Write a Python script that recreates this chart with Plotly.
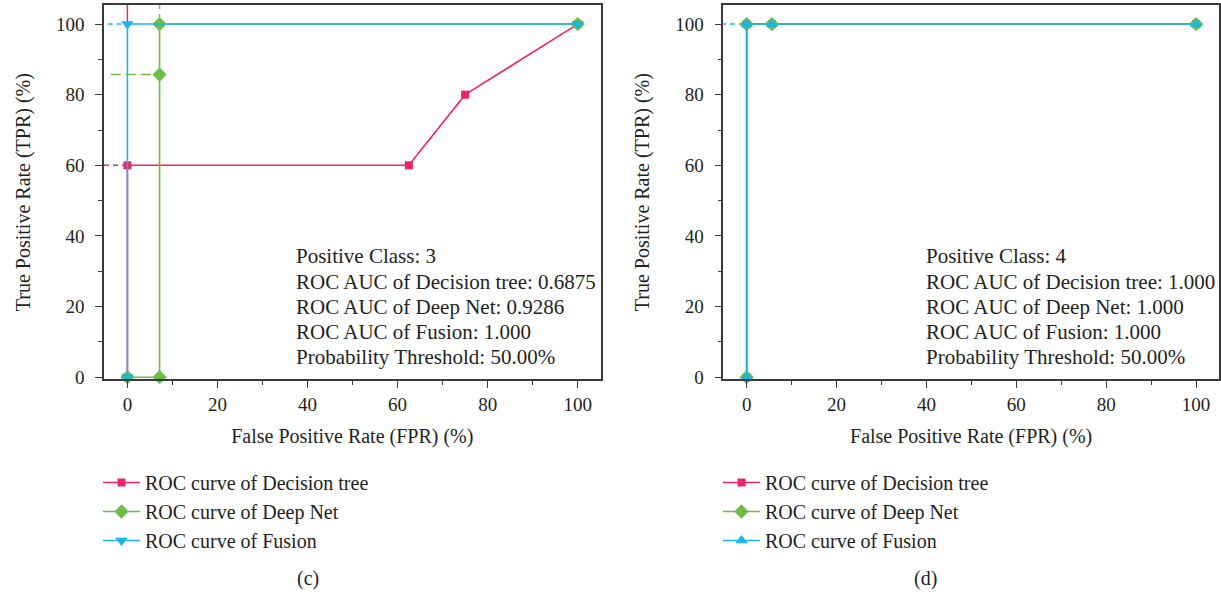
import plotly.graph_objects as go

W, H = 1221, 597

# ---- data: ROC points (FPR %, TPR %) ----
c_tree_fpr = [0, 0, 62.5, 75, 100]
c_tree_tpr = [0, 60, 60, 80, 100]
c_deep_fpr = [0, 7.14, 7.14, 7.14, 100]
c_deep_tpr = [0, 0, 85.7, 100, 100]
c_fusion_fpr = [0, 0, 100]
c_fusion_tpr = [0, 100, 100]

d_tree_fpr = [0, 0, 5.6, 100]
d_tree_tpr = [0, 100, 100, 100]
d_deep_fpr = [0, 0, 5.6, 100]
d_deep_tpr = [0, 100, 100, 100]
d_fusion_fpr = [0, 0, 5.6, 100]
d_fusion_tpr = [0, 100, 100, 100]

series_names = ["ROC curve of Decision tree", "ROC curve of Deep Net", "ROC curve of Fusion"]
c_info = ["Positive Class: 3",
          "ROC AUC of Decision tree: 0.6875",
          "ROC AUC of Deep Net: 0.9286",
          "ROC AUC of Fusion: 1.000",
          "Probability Threshold: 50.00%"]
d_info = ["Positive Class: 4",
          "ROC AUC of Decision tree: 1.000",
          "ROC AUC of Deep Net: 1.000",
          "ROC AUC of Fusion: 1.000",
          "Probability Threshold: 50.00%"]
tick_vals = [0, 20, 40, 60, 80, 100]

RED, GREEN, BLUE = "#EC2566", "#6CBD45", "#1CB5E8"
FONT = "Liberation Serif"
TXT = "#231F20"
X_RANGE = [-5.2, 105.1]
Y_RANGE = [-0.6, 105.4]


def px_x(p):
    return p / W


def px_y(p):
    return 1 - p / H


fig = go.Figure()


def add_curve(x, y, name, color, symbol, size, xa, ya, legend):
    fig.add_trace(go.Scatter(
        x=x, y=y, name=name, mode="lines+markers",
        line=dict(color=color, width=1.6),
        marker=dict(color=color, symbol=symbol, size=size),
        xaxis=xa, yaxis=ya, legend=legend, cliponaxis=False))


def add_guide(x, y, color, dash, xa, ya):
    fig.add_trace(go.Scatter(
        x=x, y=y, mode="lines", showlegend=False, hoverinfo="skip",
        line=dict(color=color, width=1.4, dash=dash), xaxis=xa, yaxis=ya))


# panel (c): guide lines from the axis edge to the curve knees
add_guide([X_RANGE[0], c_tree_fpr[1]], [c_tree_tpr[1]] * 2, RED, "5px,4px", "x", "y")
add_guide([c_tree_fpr[1]] * 2, [c_tree_tpr[-1], Y_RANGE[1]], RED, "solid", "x", "y")
add_guide([X_RANGE[0] + 1.5, c_deep_fpr[2]], [c_deep_tpr[2]] * 2, GREEN, "10px,5px", "x", "y")
add_guide([c_deep_fpr[3]] * 2, [c_deep_tpr[3], Y_RANGE[1]], GREEN, "10px,5px", "x", "y")
add_guide([X_RANGE[0] - 1.2, c_fusion_fpr[1]], [c_fusion_tpr[1]] * 2, BLUE, "5px,4px", "x", "y")

add_curve(c_tree_fpr, c_tree_tpr, series_names[0], RED, "square", 8, "x", "y", "legend")
add_curve(c_deep_fpr, c_deep_tpr, series_names[1], GREEN, "diamond", 11, "x", "y", "legend")
add_curve(c_fusion_fpr, c_fusion_tpr, series_names[2], BLUE, "triangle-down", 11, "x", "y", "legend")

# panel (d)
add_guide([X_RANGE[0] - 0.5, d_fusion_fpr[1]], [d_fusion_tpr[1]] * 2, BLUE, "5px,4px", "x2", "y2")
add_curve(d_tree_fpr, d_tree_tpr, series_names[0], RED, "square", 8, "x2", "y2", "legend2")
add_curve(d_deep_fpr, d_deep_tpr, series_names[1], GREEN, "diamond", 11, "x2", "y2", "legend2")
add_curve(d_fusion_fpr, d_fusion_tpr, series_names[2], BLUE, "triangle-up", 11, "x2", "y2", "legend2")

axis_common = dict(
    showgrid=False, zeroline=False, showline=True, linecolor="#3a3a3a", linewidth=1.5,
    mirror=True, ticks="outside", ticklen=7, tickwidth=1.3, tickcolor="#3a3a3a",
    tickfont=dict(family=FONT, size=19, color=TXT), automargin=False,
    minor=dict(ticks="outside", ticklen=4, tickwidth=1.2, tickcolor="#3a3a3a", showgrid=False),
)

xdom1 = [px_x(104), px_x(600.7)]
xdom2 = [px_x(723.3), px_x(1219)]
ydom = [px_y(379.3), px_y(5)]

xt = dict(text="False Positive Rate (FPR) (%)", font=dict(family=FONT, size=20, color=TXT), standoff=15)
yt = dict(text="True Positive Rate (TPR) (%)", font=dict(family=FONT, size=20, color=TXT), standoff=20)

legend_style = dict(xanchor="left", yanchor="top",
                    font=dict(family=FONT, size=20, color=TXT), bgcolor="rgba(0,0,0,0)",
                    itemwidth=37, tracegroupgap=0)

fig.update_layout(
    width=W, height=H, margin=dict(l=0, r=0, t=0, b=0),
    paper_bgcolor="white", plot_bgcolor="white",
    xaxis=dict(domain=xdom1, range=X_RANGE, tickvals=tick_vals, anchor="y", title=xt, **axis_common),
    yaxis=dict(domain=ydom, range=Y_RANGE, tickvals=tick_vals, anchor="x", title=yt,
               ticklabelstandoff=7, **axis_common),
    xaxis2=dict(domain=xdom2, range=X_RANGE, tickvals=tick_vals, anchor="y2", title=xt, **axis_common),
    yaxis2=dict(domain=ydom, range=Y_RANGE, tickvals=tick_vals, anchor="x2", title=yt,
                ticklabelstandoff=7, **axis_common),
    legend=dict(x=px_x(98), y=px_y(463), **legend_style),
    legend2=dict(x=px_x(718), y=px_y(463), **legend_style),
    showlegend=True,
)
fig.update_xaxes(minor=dict(tick0=10, dtick=20))
fig.update_yaxes(minor=dict(tick0=10, dtick=20))

annotations = []
line_y = [256, 282, 307, 332, 357]
for lines, x0 in ((c_info, 294), (d_info, 924)):
    for txt, yy in zip(lines, line_y):
        annotations.append(dict(
            text=txt, x=px_x(x0), y=px_y(yy), xref="paper", yref="paper",
            xanchor="left", yanchor="middle", showarrow=False,
            font=dict(family=FONT, size=21, color=TXT)))
for label, xx in (("(c)", 308), ("(d)", 925)):
    annotations.append(dict(
        text=label, x=px_x(xx), y=px_y(578), xref="paper", yref="paper",
        xanchor="center", yanchor="middle", showarrow=False,
        font=dict(family=FONT, size=20, color=TXT)))
fig.update_layout(annotations=annotations)

fig.write_html("out.html")
